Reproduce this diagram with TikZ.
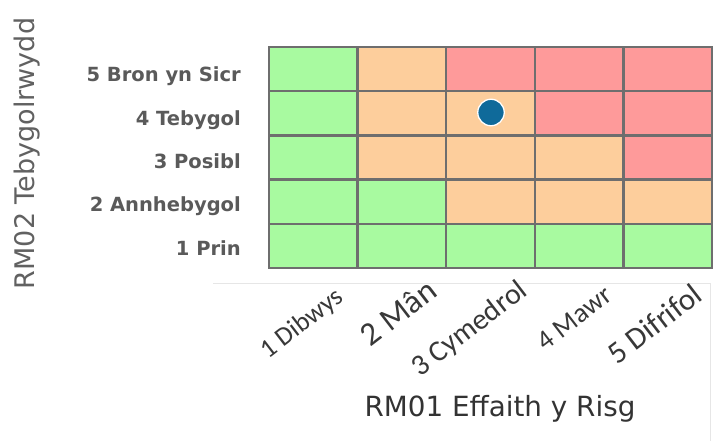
\documentclass[tikz,border=0pt]{standalone}
\usepackage{fontspec}
\newfontfamily\dejavu{DejaVu Sans}
\newfontfamily\carlito{Carlito}
\definecolor{cG}{HTML}{A8FAA0}
\definecolor{cO}{HTML}{FDCE9C}
\definecolor{cR}{HTML}{FE9A9A}
\definecolor{gridgray}{HTML}{6E6E6E}
\definecolor{dotblue}{HTML}{0F6A9A}
\definecolor{ylab}{HTML}{5A5A5A}
\definecolor{faint}{HTML}{E6E6E6}
\newcommand{\xfont}[1]{\carlito\fontsize{#1}{#1}\selectfont}
\tikzset{
  gridline/.style={draw=gridgray, line width=2.4pt},
  ylabel/.style={anchor=base east, inner sep=0pt, text=ylab, font=\dejavu\bfseries\fontsize{19.5}{20}\selectfont},
  xlabel/.style={anchor=base east, inner sep=0pt, rotate=37.5, text=black!78},
  axistitle/.style={anchor=base, inner sep=0pt},
  riskdot/.style={circle, fill=dotblue, draw=white, line width=1.3pt, minimum size=26.5pt, inner sep=0pt},
  faintline/.style={draw=faint, line width=1pt}
}
\begin{document}
\begin{tikzpicture}[x=1pt,y=-1pt]
\useasboundingbox (0,0) rectangle (718,441);
\fill[white] (0,0) rectangle (718,441);
% faint panel lines
\coordinate (fl1) at (213,283);
\coordinate (fl2) at (710,283);
\coordinate (fl3) at (710,441);
\draw[faintline] (fl1) -- (fl2) -- (fl3);
% cells
\foreach \c [count=\i from 0] in {G,O,R,R,R, G,O,O,R,R, G,O,O,O,R, G,G,O,O,O, G,G,G,G,G}{
  \pgfmathtruncatemacro\cc{mod(\i,5)}
  \pgfmathtruncatemacro\rr{div(\i,5)}
  \fill[fill=c\c] ({269+\cc*88.6},{47+\rr*44.2}) rectangle ++(88.6,44.2);
}
% grid lines
\foreach \k in {1,...,4}{
  \draw[gridline] ({269+\k*88.6},47) -- ({269+\k*88.6},268);
  \draw[gridline] (269,{47+\k*44.2}) -- (712,{47+\k*44.2});
}
\draw[gridline] (269,47) rectangle (712,268);
% risk marker
\node[riskdot] (risk) at (491,112.5) {};
% y labels
\node[ylabel] (y5) at (241,82) {5 Bron yn Sicr};
\node[ylabel] (y4) at (241,125.3) {4 Tebygol};
\node[ylabel] (y3) at (241,168.5) {3 Posibl};
\node[ylabel] (y2) at (241,211.8) {2 Annhebygol};
\node[ylabel] (y1) at (241,255) {1 Prin};
% x labels
\node[xlabel, font=\xfont{26.5}] (x1) at (345,300) {1 Dibwys};
\node[xlabel, font=\xfont{33}] (x2) at (439,295) {2 Mân};
\node[xlabel, font=\xfont{29.6}] (x3) at (529,294) {3 Cymedrol};
\node[xlabel, font=\xfont{27.5}] (x4) at (614,299) {4 Mawr};
\node[xlabel, font=\xfont{31}] (x5) at (704,299) {5 Difrifol};
% axis titles
\node[axistitle, rotate=90, text=black!62, font=\dejavu\fontsize{27}{28}\selectfont] (ytitle) at (34.5,153.5) {RM02 Tebygolrwydd};
\node[axistitle, text=black!80, font=\dejavu\fontsize{27.8}{29}\selectfont] (xtitle) at (500,416.5) {RM01 Effaith y Risg};
\end{tikzpicture}
\end{document}
